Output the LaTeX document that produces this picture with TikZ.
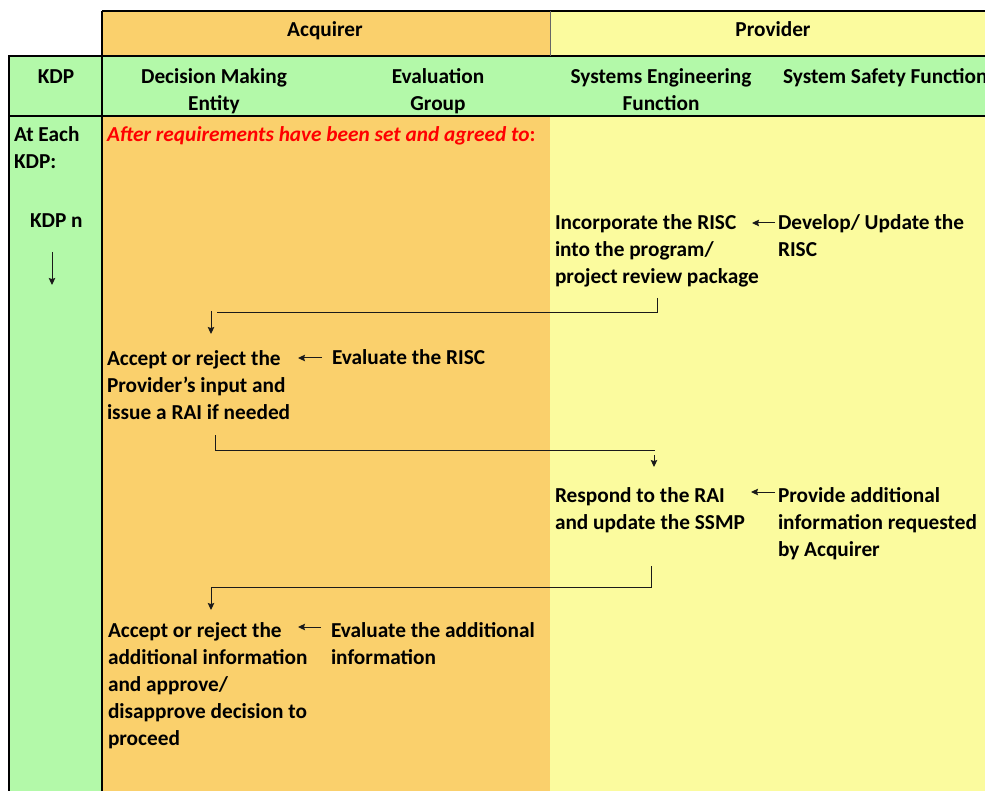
\documentclass[tikz,border=0pt]{standalone}
\usepackage{fontspec}
\setmainfont{Carlito}
\usetikzlibrary{arrows.meta,calc}

\definecolor{acqfill}{HTML}{FAD06C}
\definecolor{provfill}{HTML}{FBFB9E}
\definecolor{kdpfill}{HTML}{B3F9A9}
\definecolor{notered}{HTML}{FF0000}
\definecolor{flowline}{HTML}{1A1A1A}

% node anchors sit on the baseline of the LAST line of each text
\tikzset{
  cell/.style={font=\fontsize{21.3}{27}\selectfont\bfseries, inner sep=0pt, outer sep=0pt},
  task/.style={cell, align=left, anchor=base west},
  head/.style={cell, align=center, anchor=base},
  grid line/.style={line width=1.3pt, black},
  flow/.style={line width=1pt, flowline},
  flowarr/.style={flow, -{Stealth[length=7pt,width=6.5pt,inset=1pt]}},
}

\begin{document}
\begin{tikzpicture}[x=1pt,y=-1pt]
\useasboundingbox (0,0) rectangle (985,791);
\clip (0,0) rectangle (985,791);

% swimlane backgrounds
\fill[kdpfill] (9,56) rectangle (985,116);
\fill[kdpfill] (9,116) rectangle (102,791);
\fill[acqfill] (102,11) rectangle (550,56);
\fill[acqfill] (102,116) rectangle (550,791);
\fill[provfill] (550,11) rectangle (985,56);
\fill[provfill] (550,116) rectangle (985,791);

% table rules
\draw[grid line] (102,11) -- (985,11);
\draw[grid line] (8,56) -- (985,56);
\draw[grid line] (8,116) -- (985,116);
\draw[grid line] (9,56) -- (9,791);
\draw[grid line] (102,11) -- (102,791);
\draw[line width=0.6pt, black!60] (550,11) -- (550,56);

% header labels
\node[head] (acq)  at (325,37)  {Acquirer};
\node[head] (prov) at (773,37)  {Provider};
\node[head] (kdp)  at (56,84)   {KDP};
\node[head] (dme)  at (214,111) {Decision Making\\Entity};
\node[head] (evg)  at (438,111) {Evaluation\\Group};
\node[head] (sef)  at (661,111) {Systems Engineering\\Function};
\node[task] (ssf)  at (783,84)  {System Safety Function};

% KDP column
\node[task] (each) at (14,169) {At Each\\KDP:};
\node[task] (kdpn) at (30,228) {KDP n};
\coordinate (kdptop) at (52,252);
\coordinate (kdpend) at (52,285);
\draw[flowarr] (kdptop) -- (kdpend);

% process steps
\node[task, text=notered] (cond) at (107,142) {\itshape After requirements have been set and agreed to\/\upshape:};
\node[task] (inc)  at (555,284) {Incorporate the RISC\\into the program/\\project review package};
\node[task] (dev)  at (778,257) {Develop/ Update the\\RISC};
\node[task] (acc1) at (107,419) {Accept or reject the\\Provider’s input and\\issue a RAI if needed};
\node[task] (eva1) at (332,365) {Evaluate the RISC};
\node[task] (resp) at (555,529) {Respond to the RAI\\and update the SSMP};
\node[task] (prv)  at (778,556) {Provide additional\\information requested\\by Acquirer};
\node[task] (acc2) at (108,745) {Accept or reject the\\additional information\\and approve/\\disapprove decision to\\proceed};
\node[task] (eva2) at (331,664) {Evaluate the additional\\information};

% hand-overs inside a lane
\draw[flowarr] ($(dev.base west)+(-3,-34)$) -- ($(inc.base west)+(197,-61)$);
\draw[flowarr] ($(eva1.base west)+(-10,-7)$) -- ($(acc1.base west)+(191,-61)$);
\draw[flowarr] ($(prv.base west)+(-3,-64)$) -- ($(resp.base west)+(196,-37)$);
\draw[flowarr] ($(eva2.base west)+(-10,-37)$) -- ($(acc2.base west)+(190,-118)$);

% hand-overs between lanes
\draw[flow] ($(inc.base west)+(102,14)$) |- ($(acc1.base west)+(110,-106)$);
\draw[flowarr] ($(acc1.base west)+(104,-108)$) -- ($(acc1.base west)+(104,-85)$);
\draw[flow] ($(acc1.base west)+(108,16)$) |- ($(resp.base west)+(100,-79)$);
\draw[flowarr] ($(resp.base west)+(99,-74)$) -- ($(resp.base west)+(99,-62)$);
\draw[flowarr] ($(resp.base west)+(96,37)$) |- ($(acc2.base west)+(103,-158)$) -- ($(acc2.base west)+(103,-135)$);
\end{tikzpicture}
\end{document}
